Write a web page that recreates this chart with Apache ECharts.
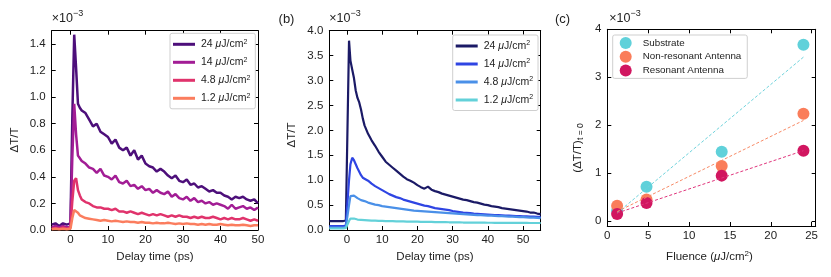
<!DOCTYPE html>
<html>
<head>
<meta charset="utf-8">
<script src="https://cdn.jsdelivr.net/npm/echarts@6/dist/echarts.min.js"></script>
<style>html,body{margin:0;padding:0;background:#fff}#c{width:831px;height:277px}</style>
</head>
<body>
<div id="c"></div>
<script>
// ---------- Panel (a) ----------
const timeA = [-5,-4,-3,-2,-1,-0.5,0,0.5,1,1.5,2,2.5,
  3,4,5,6,7,8,9,10,11,12,13,14,15,16,17,18,19,20,21,22,23,24,25,26,27,28,29,30,31,32,33,34,35,36,37,38,39,40,41,42,43,44,45,46,47,48,49,50];
const a24 = [0.04,0.05,0.03,0.05,0.04,0.03,0.05,0.85,1.47,1.22,0.95,0.92,
  0.90,0.88,0.83,0.78,0.80,0.74,0.72,0.70,0.65,0.68,0.62,0.60,0.62,0.56,0.60,0.53,0.56,0.50,0.48,0.47,0.44,0.46,0.44,0.41,0.39,0.41,0.37,0.36,0.38,0.34,0.35,0.32,0.33,0.31,0.29,0.30,0.28,0.28,0.26,0.25,0.23,0.25,0.24,0.25,0.23,0.22,0.23,0.20];
const a14 = [0.02,0.03,0.02,0.03,0.02,0.02,0.03,0.55,0.95,0.72,0.56,0.54,
  0.52,0.50,0.47,0.46,0.43,0.46,0.41,0.40,0.38,0.41,0.36,0.35,0.37,0.33,0.34,0.31,0.33,0.30,0.31,0.28,0.30,0.28,0.27,0.29,0.25,0.27,0.24,0.23,0.25,0.22,0.24,0.21,0.22,0.20,0.21,0.19,0.20,0.19,0.18,0.16,0.19,0.16,0.17,0.18,0.16,0.17,0.15,0.17];
const a48 = [0.01,0.015,0.01,0.02,0.01,0.01,0.02,0.22,0.37,0.39,0.30,0.26,
  0.23,0.21,0.20,0.18,0.17,0.17,0.16,0.16,0.15,0.16,0.14,0.14,0.13,0.14,0.13,0.12,0.13,0.12,0.11,0.12,0.11,0.12,0.11,0.10,0.11,0.10,0.11,0.10,0.10,0.09,0.10,0.09,0.10,0.09,0.09,0.10,0.09,0.08,0.09,0.08,0.09,0.08,0.08,0.09,0.08,0.07,0.08,0.07];
const a12 = [0.005,0.01,0.005,0.01,0.005,0.01,0.01,0.09,0.15,0.16,0.13,0.11,
  0.10,0.09,0.085,0.08,0.075,0.07,0.075,0.07,0.065,0.07,0.065,0.06,0.065,0.06,0.06,0.055,0.06,0.055,0.055,0.05,0.055,0.05,0.05,0.055,0.05,0.045,0.05,0.045,0.05,0.045,0.045,0.04,0.045,0.04,0.045,0.04,0.04,0.045,0.04,0.035,0.04,0.035,0.035,0.04,0.035,0.03,0.035,0.035];

// ---------- Panel (b) ----------
const timeB = [-5,-4,-3,-2,-1,-0.3,0.6,1,1.5,2,2.5,3,3.5,4,4.5,5,
  6,7,8,9,10,11,12,13,14,15,16,17,18,19,20,21,22,23,24,25,26,27,28,29,30,31,32,33,34,35,36,37,38,39,40,41,42,43,44,45,46,47,48,49,50,51,52,53,54,55];
const b24 = [0.18,0.18,0.18,0.18,0.18,0.19,3.80,3.40,3.22,3.05,2.80,2.65,2.56,2.42,2.24,2.10,
  1.93,1.80,1.69,1.57,1.47,1.37,1.31,1.25,1.19,1.13,1.07,1.02,0.99,0.95,0.90,0.86,0.83,0.87,0.81,0.78,0.76,0.73,0.71,0.69,0.67,0.65,0.63,0.61,0.60,0.58,0.56,0.55,0.53,0.51,0.50,0.48,0.47,0.46,0.44,0.43,0.42,0.41,0.40,0.39,0.38,0.37,0.35,0.35,0.33,0.32];
const b14 = [0.08,0.08,0.08,0.08,0.08,0.09,1.00,1.32,1.45,1.40,1.32,1.24,1.17,1.10,1.05,1.03,
  0.99,0.93,0.88,0.84,0.80,0.76,0.72,0.69,0.66,0.64,0.61,0.59,0.57,0.55,0.53,0.51,0.49,0.48,0.46,0.44,0.43,0.42,0.41,0.40,0.38,0.37,0.36,0.35,0.345,0.34,0.33,0.325,0.32,0.315,0.31,0.305,0.30,0.30,0.295,0.29,0.29,0.285,0.28,0.28,0.275,0.275,0.27,0.27,0.265,0.265];
const b48 = [0.05,0.05,0.05,0.05,0.05,0.06,0.50,0.68,0.72,0.69,0.66,0.64,0.62,0.60,0.59,0.58,
  0.55,0.53,0.51,0.50,0.48,0.47,0.46,0.45,0.44,0.43,0.42,0.41,0.40,0.39,0.385,0.38,0.375,0.37,0.365,0.36,0.355,0.35,0.345,0.34,0.335,0.33,0.325,0.32,0.315,0.31,0.305,0.30,0.297,0.294,0.29,0.287,0.284,0.28,0.277,0.274,0.27,0.267,0.264,0.26,0.257,0.254,0.25,0.247,0.244,0.24];
const b12 = [0.03,0.03,0.03,0.03,0.03,0.04,0.18,0.23,0.24,0.23,0.22,0.21,0.21,0.205,0.20,0.20,
  0.195,0.19,0.19,0.185,0.185,0.18,0.18,0.18,0.175,0.175,0.175,0.17,0.17,0.17,0.17,0.165,0.165,0.165,0.165,0.16,0.16,0.16,0.16,0.155,0.155,0.155,0.155,0.15,0.15,0.15,0.15,0.15,0.148,0.148,0.146,0.146,0.145,0.145,0.144,0.144,0.143,0.143,0.142,0.142,0.141,0.141,0.14,0.14,0.14,0.14];

// ---------- Panel (c) ----------
const fluence = [1.2, 4.8, 14, 24];
const cSubstrate = [0.22, 0.72, 1.45, 3.68];
const cNonRes = [0.32, 0.45, 1.15, 2.24];
const cRes = [0.15, 0.38, 0.95, 1.47];
const fitX = [1.2, 24];
const fitSubstrate = [0.17, 3.42];
const fitNonRes = [0.20, 2.10];
const fitRes = [0.17, 1.47];

// tick labels
const ticksAx = [0,10,20,30,40,50];
const ticksAy = [0,0.2,0.4,0.6,0.8,1.0,1.2,1.4];
const ticksBx = [0,10,20,30,40,50];
const ticksBy = [0,0.5,1.0,1.5,2.0,2.5,3.0,3.5,4.0];
const ticksCx = [0,5,10,15,20,25];
const ticksCy = [0,1,2,3,4];

const legendA = ['24 μJ/cm2','14 μJ/cm2','4.8 μJ/cm2','1.2 μJ/cm2'];
const legendB = ['24 μJ/cm2 ','14 μJ/cm2 ','4.8 μJ/cm2 ','1.2 μJ/cm2 '];
const legendC = ['Substrate','Non-resonant Antenna','Resonant Antenna'];

const colA = ['#4d0f7a','#a21d95','#e0336c','#fb7d5e'];
const colB = ['#1b1a66','#2f45e3','#4a90e8','#63d1d9'];
const colC = ['#60d1da','#fa7d5a','#d11660'];
const colFit = ['#6fd3dc','#f88a66','#e0357c'];

const FONT = 'Liberation Sans, Arial, sans-serif';
const chart = echarts.init(document.getElementById('c'), null, {renderer:'canvas'});

const grids = [
  {left:51.7, top:30.7, width:206.3, height:199.3},
  {left:329.3, top:30.7, width:211.4, height:199.3},
  {left:607.3, top:29.3, width:208.4, height:196.7}
];
const ranges = [
  {xmin:-5,xmax:50,ymin:0,ymax:1.5,xt:ticksAx,yt:ticksAy,yfmt:v=>v.toFixed(1),xfmt:v=>String(v)},
  {xmin:-5,xmax:55,ymin:0,ymax:4.0,xt:ticksBx,yt:ticksBy,yfmt:v=>v.toFixed(1),xfmt:v=>String(v)},
  {xmin:0,xmax:25.5,ymin:-0.1,ymax:4,xt:ticksCx,yt:ticksCy,yfmt:v=>String(v),xfmt:v=>String(v)}
];
const lineS = {show:true, onZero:false, lineStyle:{color:'#000', width:1}};
const tick = (vals)=>({show:true, inside:true, length:4, customValues:vals, lineStyle:{color:'#000', width:1}});
const xAxis = [], yAxis = [];
ranges.forEach((r,i)=>{
  xAxis.push({gridIndex:i, type:'value', position:'bottom', min:r.xmin, max:r.xmax,
    axisLine:lineS, axisTick:tick(r.xt), splitLine:{show:false},
    axisLabel:{customValues:r.xt, formatter:r.xfmt, color:'#222', fontSize:11.5, fontFamily:FONT, margin:4, showMinLabel:true, showMaxLabel:true}});
  xAxis.push({gridIndex:i, type:'value', position:'top', min:r.xmin, max:r.xmax,
    axisLine:lineS, axisTick:tick(r.xt), splitLine:{show:false}, axisLabel:{show:false}});
  yAxis.push({gridIndex:i, type:'value', position:'left', min:r.ymin, max:r.ymax,
    axisLine:lineS, axisTick:tick(r.yt), splitLine:{show:false},
    axisLabel:{customValues:r.yt, formatter:r.yfmt, color:'#222', fontSize:11.5, fontFamily:FONT, margin:6, showMinLabel:true, showMaxLabel:true}});
  yAxis.push({gridIndex:i, type:'value', position:'right', min:r.ymin, max:r.ymax,
    axisLine:lineS, axisTick:tick(r.yt), splitLine:{show:false}, axisLabel:{show:false}});
});

const series = [];
const aSets = [a24,a14,a48,a12];
aSets.forEach((d,k)=>{
  series.push({type:'line', name:legendA[k], xAxisIndex:0, yAxisIndex:0, showSymbol:false, symbol:'none',
    data: timeA.map((t,i)=>[t,d[i]]), lineStyle:{color:colA[k], width:2.5}, itemStyle:{color:colA[k]}, animation:false});
});
const bSets = [b24,b14,b48,b12];
bSets.forEach((d,k)=>{
  series.push({type:'line', name:legendB[k], xAxisIndex:2, yAxisIndex:2, showSymbol:false, symbol:'none',
    data: timeB.map((t,i)=>[t,d[i]]), lineStyle:{color:colB[k], width:2.2}, itemStyle:{color:colB[k]}, animation:false});
});
const fits = [fitSubstrate, fitNonRes, fitRes];
fits.forEach((d,k)=>{
  series.push({type:'line', xAxisIndex:4, yAxisIndex:4, showSymbol:false, symbol:'none', silent:true,
    data: fitX.map((x,i)=>[x,d[i]]), lineStyle:{color:colFit[k], width:1, type:[3,2]}, animation:false, z:3});
});
const cSets = [cSubstrate, cNonRes, cRes];
cSets.forEach((d,k)=>{
  series.push({type:'scatter', name:legendC[k], xAxisIndex:4, yAxisIndex:4, symbolSize:12,
    data: fluence.map((x,i)=>[x,d[i]]), itemStyle:{color:colC[k], opacity:1}, animation:false, z:2});
});

const legRich = {
  mu:{fontStyle:'italic', fontSize:10.5, fontFamily:FONT, color:'#222'},
  sup:{fontSize:7, fontFamily:FONT, color:'#222', verticalAlign:'top', lineHeight:8},
  n:{fontSize:10.5, fontFamily:FONT, color:'#222', lineHeight:12}
};
const legFmt = name => {
  const s = name.trim();
  const m = s.match(/^(\S+) μJ\/cm2$/);
  if (m) return '{n|' + m[1] + ' }{mu|μ}{n|J/cm}{sup|2}';
  return name;
};
const legendBox = {backgroundColor:'#fff', borderColor:'#cfcfcf', borderWidth:1, borderRadius:2, orient:'vertical', icon:'rect',
  itemWidth:22, itemHeight:3, itemGap:6.5, padding:[5,5,5,3], selectedMode:false, formatter:legFmt,
  textStyle:{rich:legRich, fontSize:10.5, fontFamily:FONT, color:'#222', padding:[0,0,0,1]}};

const legend = [
  Object.assign({}, legendBox, {left:170, top:33.3, data:legendA}),
  Object.assign({}, legendBox, {left:452.7, top:35, data:legendB}),
  {orient:'vertical', left:612.7, top:35, icon:'circle', itemWidth:12, itemHeight:12, itemGap:1.7,
   padding:[2,6,2,7], backgroundColor:'#fff', borderColor:'#cfcfcf', borderWidth:1, borderRadius:2, selectedMode:false,
   data:legendC, textStyle:{fontSize:9.8, fontFamily:FONT, color:'#222', padding:[0,0,0,6]}}
];

const txt = (x,y,text,opts)=>Object.assign({type:'text', x:x, y:y, silent:true,
  style:Object.assign({text:text, fill:'#222', font:'11px '+FONT, align:'center', verticalAlign:'middle'}, opts||{})});
const expRich = {a:{fontSize:12.5, fontFamily:FONT, fill:'#222', color:'#222', lineHeight:16, verticalAlign:'bottom'},
                 b:{fontSize:9, fontFamily:FONT, fill:'#222', color:'#222', lineHeight:16, verticalAlign:'top'}};
const graphic = [
  txt(51.7, 17, '{a|×10}{b|−3}', {align:'left', rich:expRich}),
  txt(329.3, 17, '{a|×10}{b|−3}', {align:'left', rich:expRich}),
  txt(609.3, 17, '{a|×10}{b|−3}', {align:'left', rich:expRich}),
  txt(286.5, 19, '(b)', {font:'13px '+FONT}),
  txt(562.5, 19, '(c)', {font:'13px '+FONT}),
  txt(155, 256.5, 'Delay time (ps)', {font:'11.5px '+FONT}),
  txt(435, 256.5, 'Delay time (ps)', {font:'11.5px '+FONT}),
  txt(709.5, 256.5, '{n|Fluence (}{mu|μ}{n|J/cm}{sup|2}{n|)}', {rich:{
     n:{fontSize:11.5, fontFamily:FONT, fill:'#222', lineHeight:14},
     mu:{fontSize:11.5, fontFamily:FONT, fill:'#222', fontStyle:'italic', lineHeight:14},
     sup:{fontSize:8, fontFamily:FONT, fill:'#222', verticalAlign:'top', lineHeight:14}}}),
  Object.assign(txt(15, 140, 'ΔT/T', {font:'11.5px '+FONT}), {rotation:Math.PI/2}),
  Object.assign(txt(291.5, 135, 'ΔT/T', {font:'11.5px '+FONT}), {rotation:Math.PI/2}),
  Object.assign(txt(577.5, 148, '{n|(ΔT/T)}{s|t = 0}', {rich:{
     n:{fontSize:11.5, fontFamily:FONT, fill:'#222', lineHeight:16},
     s:{fontSize:8.5, fontFamily:FONT, fill:'#222', verticalAlign:'bottom', lineHeight:16}}}), {rotation:Math.PI/2})
];

chart.setOption({
  animation:false,
  backgroundColor:'#fff',
  grid: grids.map(g=>Object.assign({containLabel:false, outerBoundsMode:'none'}, g)),
  xAxis, yAxis, series, legend, graphic
});
</script>
</body>
</html>
